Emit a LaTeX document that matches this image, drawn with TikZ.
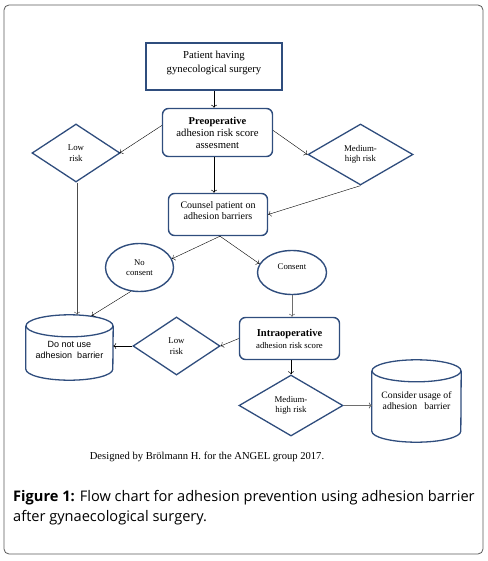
\documentclass[tikz,border=0pt]{standalone}
\usepackage{fontspec}
\setmainfont{Liberation Serif}
\newfontfamily\arialf{Liberation Sans}
\newfontfamily\capf{Open Sans}
\usetikzlibrary{shapes.geometric,arrows.meta}
\definecolor{navy}{RGB}{47,77,125}
\definecolor{framegray}{RGB}{90,90,90}
\definecolor{arrgray}{RGB}{110,110,110}
\begin{document}
\begin{tikzpicture}[x=1pt,y=-1pt,
  box/.style={draw=navy,line width=1.4pt,rounded corners=6pt,inner sep=0pt,align=center},
  dia/.style={draw=navy,line width=1.3pt,diamond,aspect=1.5,inner sep=0pt,align=center,font=\fontsize{8.8}{10.5}\selectfont},
  ell/.style={draw=navy,line width=1.4pt,ellipse,inner sep=0pt,align=center,font=\fontsize{8.7}{10.5}\selectfont},
  cyl/.style={inner sep=0pt,align=center},
  arr/.style={-{To[length=3pt,width=6pt]},line width=0.5pt,black},
  garr/.style={-{To[length=3pt,width=6pt]},line width=0.6pt,arrgray}]
\useasboundingbox (0,0) rectangle (487,561);
\draw[framegray,line width=0.8pt,rounded corners=5pt] (4,5) rectangle (483,554);
% nodes
\node[draw=navy,line width=2.4pt,inner sep=0pt,minimum width=136pt,minimum height=47pt,align=center,font=\fontsize{10.7}{14}\selectfont] (patient) at (214,66.5) {Patient having\\gynecological surgery\\[-5pt]};
\node[box,minimum width=110pt,minimum height=48pt,font=\fontsize{10.7}{12}\selectfont] (preop) at (217.5,132.5) {{\fontsize{10.5}{12}\selectfont\textbf{Preoperative}}\\adhesion risk score\\assesment};
\node[dia,minimum width=88pt,minimum height=58pt] (low1) at (76,153) {Low\\risk};
\node[dia,minimum width=105pt,minimum height=61pt] (med1) at (360.5,154.5) {Medium-\\high risk};
\node[box,minimum width=99pt,minimum height=42pt,font=\fontsize{10}{10.5}\selectfont] (counsel) at (218,214.5) {Counsel patient on\\adhesion barriers\\[-2.5pt]};
\node[ell,minimum width=68pt,minimum height=48pt] (nocons) at (139.5,267.5) {No\\consent};
\node[ell,minimum width=69pt,minimum height=44pt] (cons) at (292,272.5) {Consent\\[0.5pt]};
\node[box,minimum width=100pt,minimum height=42pt] (intra) at (289.5,338.5) {{\fontsize{10.5}{12}\selectfont\textbf{Intraoperative}}\\{\fontsize{8.7}{10}\selectfont adhesion risk score}};
\node[dia,minimum width=87pt,minimum height=58pt] (low2) at (176.5,346) {Low\\risk};
\node[dia,minimum width=104pt,minimum height=61pt] (med2) at (291,405.5) {Medium-\\high risk};
% cylinders
\node[cyl,minimum width=87pt,minimum height=65pt,font=\arialf\fontsize{9}{11}\selectfont] (dnu) at (69.5,347.5) {\\[0pt]Do not use\\adhesion~~barrier};
\draw[navy,line width=1.3pt] ([yshift=-11pt]dnu.north west) -- ([yshift=11pt]dnu.south west) arc[start angle=180,end angle=360,x radius=43.5pt,y radius=11pt] -- ([yshift=-11pt]dnu.north east);
\draw[navy,line width=1.3pt] ([yshift=-11pt]dnu.north) ellipse[x radius=43.5pt,y radius=11pt];
\node[cyl,minimum width=89pt,minimum height=82pt,font=\fontsize{9.7}{11.5}\selectfont] (cons2) at (416.5,401) {\\[-5.5pt]Consider usage of\\adhesion~~ barrier};
\draw[navy,line width=1.3pt] ([yshift=-11pt]cons2.north west) -- ([yshift=11pt]cons2.south west) arc[start angle=180,end angle=360,x radius=44.5pt,y radius=11pt] -- ([yshift=-11pt]cons2.north east);
\draw[navy,line width=1.3pt] ([yshift=-11pt]cons2.north) ellipse[x radius=44.5pt,y radius=11pt];
% connectors
\draw[arr] (patient.south) -- (patient.south |- preop.north);
\draw[arr,line width=0.4pt] ([yshift=7pt]preop.west) -- ([xshift=-1pt]low1.east);
\draw[arr,line width=0.4pt] ([yshift=2pt]preop.east) -- (med1.west);
\draw[arr] ([xshift=-3.5pt]preop.south) -- ([xshift=-3.5pt]preop.south |- counsel.north);
\draw[arr,line width=0.4pt] (med1.south) -- (counsel.east);
\draw[arr,line width=0.4pt,black!70] ([xshift=1pt]low1.south) -- ([xshift=1pt]low1.south |- dnu.north);
\draw[arr,line width=0.4pt] ([xshift=2pt]counsel.south) -- (nocons.15);
\draw[arr,line width=0.4pt] ([xshift=2pt]counsel.south) -- (cons.165);
\draw[arr,line width=0.4pt] (nocons.250) -- ([xshift=22pt,yshift=-1pt]dnu.north);
\draw[garr] (cons.south) -- (cons.south |- intra.north);
\draw[arr,line width=0.4pt] (intra.west) -- (low2.east);
\draw[arr,line width=0.5pt] (low2.west) -- (low2.west -| dnu.east);
\draw[arr] ([xshift=1.5pt]intra.south) -- ([xshift=1.5pt]intra.south |- med2.north);
\draw[garr,line width=0.8pt] (med2.east) -- (med2.east -| cons2.west);
% captions
\node[font=\fontsize{10.6}{12}\selectfont,inner sep=0pt] (designed) at (207,457) {Designed by Brölmann H. for the ANGEL group 2017.};
\node[anchor=base west,inner sep=0pt,font=\capf\fontsize{14.6}{20}\selectfont] (cap1) at (13,501.5) {\textbf{Figure 1:} Flow chart for adhesion prevention using adhesion barrier};
\node[anchor=base west,inner sep=0pt,font=\capf\fontsize{14.6}{20}\selectfont] (cap2) at (13,521.5) {after gynaecological surgery.};
\end{tikzpicture}
\end{document}
